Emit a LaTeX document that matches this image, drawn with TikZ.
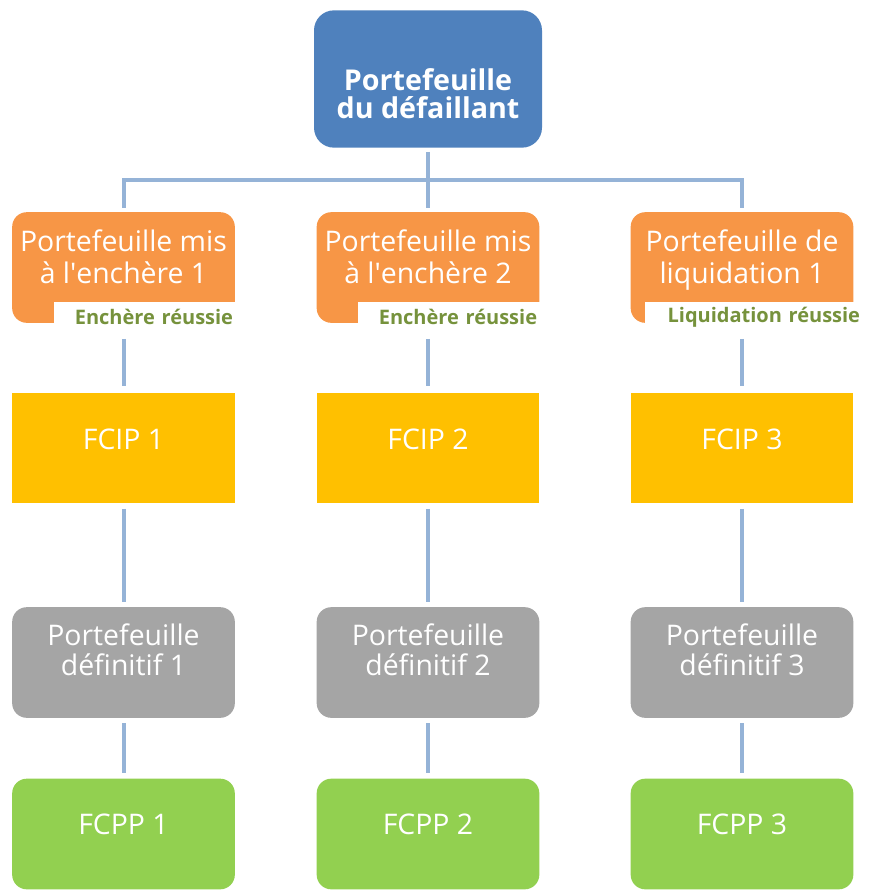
\documentclass[tikz,border=0pt]{standalone}
\usepackage{fontspec}
\setmainfont{Open Sans}
\usepackage{tikz}
\usetikzlibrary{calc}
\definecolor{topblue}{HTML}{4F81BD}
\definecolor{auctionorange}{HTML}{F79646}
\definecolor{fcipyellow}{HTML}{FFC000}
\definecolor{finalgray}{HTML}{A5A5A5}
\definecolor{fcppgreen}{HTML}{92D050}
\definecolor{linkblue}{HTML}{95B3D7}
\definecolor{labelgreen}{HTML}{76923C}
\newcommand{\liftby}[1]{\rule[-#1]{0pt}{0pt}}
\newcommand{\dropby}[1]{\rule{0pt}{#1}}
\tikzset{
  box/.style={minimum width=167pt,minimum height=83pt,inner sep=0pt,
    text=white,align=center,font=\fontsize{21.3}{24}\selectfont},
  topbox/.style={box,fill=topblue,rounded corners=15pt,minimum width=171pt,
    minimum height=103pt,font=\bfseries\fontsize{21.5}{21}\selectfont},
  auction/.style={box,fill=auctionorange,rounded corners=11pt,
    execute at end node={\liftby{17pt}}},
  fcip/.style={box,fill=fcipyellow,execute at end node={\liftby{13pt}}},
  final/.style={box,fill=finalgray,rounded corners=11pt,
    font=\fontsize{21.3}{22.5}\selectfont,execute at end node={\liftby{20pt}}},
  fcpp/.style={box,fill=fcppgreen,rounded corners=11pt,
    execute at end node={\liftby{14pt}}},
  result/.style={fill=white,text=labelgreen,anchor=east,align=right,
    inner xsep=5pt,inner ysep=0pt,minimum height=22.5pt,
    font=\bfseries\fontsize{15}{18}\selectfont},
  link/.style={draw=linkblue,line width=3pt},
}

\begin{document}
\begin{tikzpicture}[x=0.75pt,y=-0.75pt]
  \useasboundingbox (0,0) rectangle (888,890);

  \node[topbox] (top) at (428,79) {\dropby{38pt}Portefeuille\\du défaillant};

  \node[auction] (o1) at (123.5,267.5) {Portefeuille mis\\à l\textquotesingle enchère 1};
  \node[auction] (o2) at (428,267.5) {Portefeuille mis\\à l\textquotesingle enchère 2};
  \node[auction] (o3) at (742,267.5) {Portefeuille de\\liquidation 1};

  \node[result,text width=129pt] (r1) at (240,317) {Enchère réussie};
  \node[result,text width=129pt] (r2) at (544,317) {Enchère réussie};
  \node[result,text width=156pt] (r3) at (867,317) {Liquidation réussie};

  \node[fcip] (y1) at (123.5,448) {FCIP 1};
  \node[fcip] (y2) at (428,448) {FCIP 2};
  \node[fcip] (y3) at (742,448) {FCIP 3};

  \node[final] (g1) at (123.5,662.5) {Portefeuille\\définitif 1};
  \node[final] (g2) at (428,662.5) {Portefeuille\\définitif 2};
  \node[final] (g3) at (742,662.5) {Portefeuille\\définitif 3};

  \node[fcpp] (f1) at (123.5,834) {FCPP 1};
  \node[fcpp] (f2) at (428,834) {FCPP 2};
  \node[fcpp] (f3) at (742,834) {FCPP 3};

  \coordinate (bar) at (428,180);

  \draw[link,shorten <=3pt] (top.south) -- (bar);
  \draw[link,shorten >=3pt] (bar) -| (o1.north);
  \draw[link,shorten >=3pt] (bar) -- (o2.north);
  \draw[link,shorten >=3pt] (bar) -| (o3.north);

  \foreach \i in {1,2,3} {
    \draw[link,shorten <=5pt,shorten >=5pt] (y\i.north |- r\i.south) -- (y\i.north);
    \draw[link,shorten <=4pt,shorten >=4pt] (y\i.south) -- (g\i.north);
    \draw[link,shorten <=4pt,shorten >=4pt] (g\i.south) -- (f\i.north);
  }
\end{tikzpicture}
\end{document}
